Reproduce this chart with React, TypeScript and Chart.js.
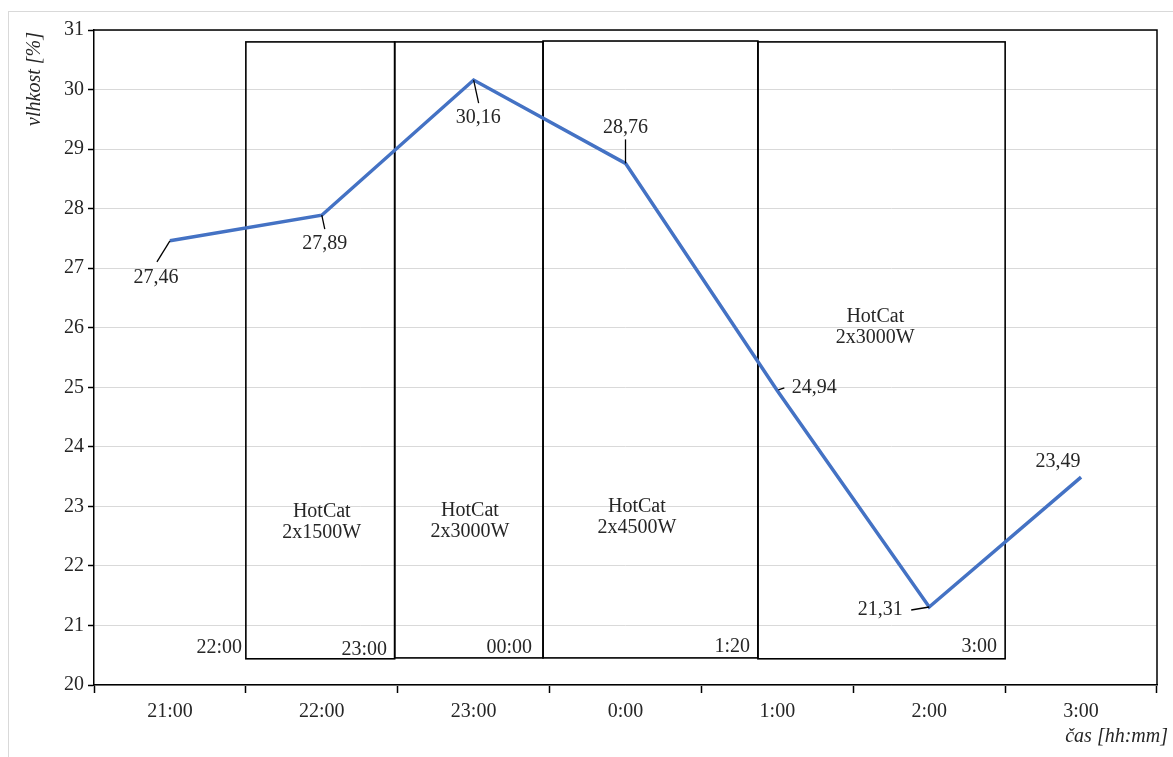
import React, { useEffect, useRef } from 'react';
import { Chart, registerables } from 'chart.js';

Chart.register(...registerables);

// ---- data ----
const categories = ['21:00', '22:00', '23:00', '0:00', '1:00', '2:00', '3:00'];
const humidity = [27.46, 27.89, 30.16, 28.76, 24.94, 21.31, 23.49];
const yMin = 20;
const yMax = 31;
const yStep = 1;

// heating periods (x in category index units, y in % units)
const heaterName = 'HotCat';
const heaterPower = ['2x1500W', '2x3000W', '2x4500W', '2x3000W'];
const periodFrom = [0.5, 1.48, 2.457, 3.872];
const periodTo = [1.48, 2.457, 3.872, 5.5];
const periodTop = [30.8, 30.8, 30.815, 30.8];
const periodBottom = [20.44, 20.455, 20.455, 20.44];
const periodLabelX = [1.0, 1.976, 3.075, 4.645];
const periodLabelY = [22.74, 22.75, 22.82, 26.01];

// clock marks written inside the boxes
const markTimes = ['22:00', '23:00', '00:00', '1:20', '3:00'];
const markX = [0.475, 1.43, 2.385, 3.82, 5.446];
const markY = [20.62, 20.59, 20.62, 20.64, 20.65];

const yTitle = 'vlhkost [%]';
const xTitle = 'čas [hh:mm]';

// ---- style ----
const FONT = '"Liberation Serif", "Times New Roman", serif';
const FS = 20;
const TEXT = '#262626';
const LINE = '#4472C4';
// label offsets from point [dx, dy] and leader lines [x1, y1, x2, y2] relative to point
const labelOffset = [[-14, 37], [3, 29], [4.5, 38], [0, -36], [37, -2.6], [-49, 3], [-23, -15]];
const leaderLines: (number[] | null)[] = [
  [0, 0, -13, 21],
  [0, 0, 3, 14],
  [0, 0, 5, 23],
  [0, 0, 0, -24],
  [1, -1, 7, -3],
  [0, 0, -18, 3],
  null,
];

const fmt = (v: number) => v.toFixed(2).replace('.', ',');

const overlayPlugin = {
  id: 'overlay',
  beforeDatasetsDraw(chart: any) {
    const { ctx, scales } = chart;
    const x = scales.x;
    const y = scales.y;
    ctx.save();
    ctx.strokeStyle = '#000';
    ctx.lineWidth = 1.6;
    for (let i = 0; i < periodFrom.length; i++) {
      const x1 = x.getPixelForValue(periodFrom[i]);
      const x2 = x.getPixelForValue(periodTo[i]);
      const y1 = y.getPixelForValue(periodTop[i]);
      const y2 = y.getPixelForValue(periodBottom[i]);
      ctx.strokeRect(x1, y1, x2 - x1, y2 - y1);
    }
    ctx.fillStyle = TEXT;
    ctx.font = `${FS}px ${FONT}`;
    ctx.textAlign = 'center';
    ctx.textBaseline = 'middle';
    for (let i = 0; i < heaterPower.length; i++) {
      const cx = x.getPixelForValue(periodLabelX[i]);
      const cy = y.getPixelForValue(periodLabelY[i]);
      ctx.fillText(heaterName, cx, cy - 10.5);
      ctx.fillText(heaterPower[i], cx, cy + 10.5);
    }
    ctx.textAlign = 'right';
    for (let i = 0; i < markTimes.length; i++) {
      ctx.fillText(markTimes[i], x.getPixelForValue(markX[i]), y.getPixelForValue(markY[i]));
    }
    ctx.restore();
  },
  afterDatasetsDraw(chart: any) {
    const { ctx, chartArea } = chart;
    const meta = chart.getDatasetMeta(0);
    ctx.save();
    // frame top/right
    ctx.strokeStyle = '#000';
    ctx.lineWidth = 1.5;
    ctx.beginPath();
    ctx.moveTo(chartArea.left, chartArea.top);
    ctx.lineTo(chartArea.right, chartArea.top);
    ctx.lineTo(chartArea.right, chartArea.bottom);
    ctx.stroke();
    // data labels
    ctx.fillStyle = TEXT;
    ctx.font = `${FS}px ${FONT}`;
    ctx.textAlign = 'center';
    ctx.textBaseline = 'middle';
    ctx.lineWidth = 1.3;
    meta.data.forEach((pt: any, i: number) => {
      const l = leaderLines[i];
      if (l) {
        ctx.beginPath();
        ctx.moveTo(pt.x + l[0], pt.y + l[1]);
        ctx.lineTo(pt.x + l[2], pt.y + l[3]);
        ctx.stroke();
      }
      ctx.fillText(fmt(humidity[i]), pt.x + labelOffset[i][0], pt.y + labelOffset[i][1]);
    });
    // axis titles
    ctx.font = `italic ${FS}px ${FONT}`;
    ctx.textAlign = 'right';
    ctx.fillText(xTitle, chartArea.right + 11, chartArea.bottom + 52);
    ctx.translate(26, chartArea.top);
    ctx.rotate(-Math.PI / 2);
    ctx.textAlign = 'right';
    ctx.fillText(yTitle, -2, 0);
    ctx.restore();
  },
};

export default function App() {
  const ref = useRef<HTMLCanvasElement | null>(null);
  useEffect(() => {
    if (!ref.current) return;
    const chart = new Chart(ref.current, {
      type: 'line',
      data: {
        labels: categories,
        datasets: [
          {
            data: humidity,
            borderColor: LINE,
            borderWidth: 3.5,
            pointRadius: 0,
            tension: 0,
            fill: false,
          },
        ],
      },
      options: {
        responsive: false,
        animation: false,
        layout: { padding: { top: 18, right: 16, left: 0, bottom: 0 } },
        plugins: { legend: { display: false }, tooltip: { enabled: false } },
        scales: {
          x: {
            offset: true,
            grid: {
              offset: true,
              drawOnChartArea: false,
              color: '#000',
              tickColor: '#000',
              tickLength: 8,
              tickWidth: 1.5,
            },
            border: { color: '#000', width: 1.5 },
            ticks: { color: TEXT, font: { family: FONT, size: FS }, padding: 7, maxRotation: 0 },
            afterFit: (s: any) => { s.height = 72; },
          },
          y: {
            min: yMin,
            max: yMax,
            ticks: { stepSize: yStep, color: TEXT, font: { family: FONT, size: FS }, padding: 4 },
            grid: { color: '#d9d9d9', lineWidth: 1, tickColor: '#000', tickLength: 6, tickWidth: 1.5 },
            border: { color: '#000', width: 1.5 },
            afterFit: (s: any) => { s.width = 85; },
          },
        },
      },
      plugins: [overlayPlugin],
    });
    return () => chart.destroy();
  }, []);
  return (
    <div
      style={{
        position: 'fixed',
        left: 8,
        top: 11,
        width: 1165,
        height: 746,
        borderTop: '1px solid #d9d9d9',
        borderLeft: '1px solid #d9d9d9',
        boxSizing: 'border-box',
        background: '#fff',
      }}
    >
      <canvas ref={ref} width={1164} height={745} style={{ display: 'block', width: 1164, height: 745 }} />
    </div>
  );
}
